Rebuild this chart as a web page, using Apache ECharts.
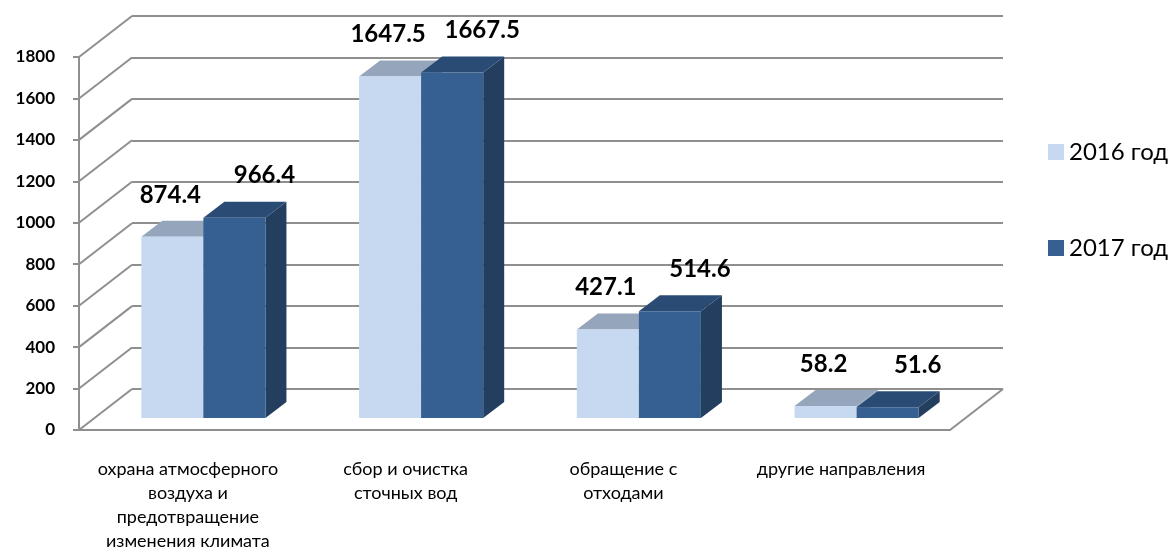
<!DOCTYPE html>
<html>
<head>
<meta charset="utf-8">
<script src="https://cdn.jsdelivr.net/npm/echarts@6/dist/echarts.min.js"></script>
<style>
  html, body { margin: 0; padding: 0; background: #fff; }
  #chart { width: 1176px; height: 553px; }
</style>
</head>
<body>
<div id="chart"></div>
<script>
const categories = [
  'охрана атмосферного\nвоздуха и\nпредотвращение\nизменения климата',
  'сбор и очистка\nсточных вод',
  'обращение с\nотходами',
  'другие направления'
];
const seriesNames = ['2016 год', '2017 год'];
const values2016 = [874.4, 1647.5, 427.1, 58.2];
const values2017 = [966.4, 1667.5, 514.6, 51.6];
const yTicks = [0, 200, 400, 600, 800, 1000, 1200, 1400, 1600, 1800];

// fake 3d: back wall offset, bar plane offset, bar depth (px)
const WALL = [53, -41];
const BAR_SHIFT = [15.5, -12];
const BAR_DEPTH = [21, -16];
const BAR_W = 0.285; // share of category width
const GRID_COLOR = '#8f8f8f';
const FONT = 'Lato, "Open Sans", sans-serif';

const chart = echarts.init(document.getElementById('chart'));

function barRenderer(side, colors, labelDx) {
  return function (params, api) {
    const i = api.value(0);
    const v = api.value(1);
    const top = api.coord([i, v]);
    const base = api.coord([i, 0]);
    const w = api.size([1, 0])[0] * BAR_W;
    const x0 = top[0] + BAR_SHIFT[0] - (side === 0 ? w : 0);
    const x1 = x0 + w;
    const yt = top[1] + BAR_SHIFT[1];
    const yb = base[1] + BAR_SHIFT[1];
    const dx = BAR_DEPTH[0], dy = BAR_DEPTH[1];
    return {
      type: 'group',
      children: [
        {
          type: 'polygon',
          shape: { points: [[x1, yt], [x1 + dx, yt + dy], [x1 + dx, yb + dy], [x1, yb]] },
          style: { fill: colors.side }
        },
        {
          type: 'polygon',
          shape: { points: [[x0, yt], [x0 + dx, yt + dy], [x1 + dx, yt + dy], [x1, yt]] },
          style: { fill: colors.top }
        },
        {
          type: 'rect',
          shape: { x: x0, y: yt, width: w, height: yb - yt },
          style: { fill: colors.front }
        },
        {
          type: 'text',
          x: (x0 + x1) / 2 + labelDx,
          y: yt - 42,
          style: {
            text: v.toFixed(1),
            fill: '#000',
            fontSize: 24,
            fontWeight: 'bold',
            fontFamily: FONT,
            align: 'center',
            verticalAlign: 'middle',
            textAlign: 'center',
            textVerticalAlign: 'middle'
          }
        }
      ]
    };
  };
}

// left wall diagonals + right floor edge
function wallRenderer(params, api) {
  const cs = params.coordSys;
  const v = api.value(1);
  const y = api.coord([0, v])[1];
  const lines = [{
    type: 'line',
    shape: { x1: cs.x, y1: y, x2: cs.x + WALL[0], y2: y + WALL[1] },
    style: { stroke: GRID_COLOR, lineWidth: 2 }
  }];
  if (v === 0) {
    lines.push({
      type: 'line',
      shape: { x1: cs.x + cs.width, y1: y, x2: cs.x + cs.width + WALL[0], y2: y + WALL[1] },
      style: { stroke: GRID_COLOR, lineWidth: 2 }
    });
  }
  return { type: 'group', children: lines };
}

const option = {
  animation: false,
  backgroundColor: '#fff',
  textStyle: { fontFamily: FONT },
  legend: {
    data: seriesNames,
    orient: 'vertical',
    left: 1043,
    top: 135,
    icon: 'rect',
    itemWidth: 16,
    itemHeight: 16,
    itemGap: 72,
    textStyle: { fontSize: 24, color: '#000', fontFamily: FONT }
  },
  grid: [
    { left: 79, top: 57, width: 871, height: 373 },
    { left: 79 + WALL[0], top: 57 + WALL[1], width: 871, height: 373 }
  ],
  xAxis: [
    {
      gridIndex: 0,
      type: 'category',
      data: categories,
      axisLine: { lineStyle: { color: GRID_COLOR, width: 2 } },
      axisTick: { length: 7, lineStyle: { color: GRID_COLOR, width: 2 } },
      axisLabel: {
        interval: 0,
        color: '#000',
        fontSize: 18,
        lineHeight: 24,
        margin: 27,
        fontFamily: FONT
      }
    },
    { gridIndex: 1, type: 'category', data: categories, show: false }
  ],
  yAxis: [
    {
      gridIndex: 0,
      type: 'value',
      min: 0,
      max: 1800,
      interval: 200,
      axisLine: { show: true, lineStyle: { color: GRID_COLOR, width: 2 } },
      axisTick: { show: true, length: 6, lineStyle: { color: GRID_COLOR, width: 2 } },
      axisLabel: {
        color: '#000',
        fontSize: 17,
        fontWeight: 'bold',
        margin: 24,
        fontFamily: FONT,
        formatter: v => String(v)
      },
      splitLine: { show: false }
    },
    {
      gridIndex: 1,
      type: 'value',
      min: 0,
      max: 1800,
      interval: 200,
      axisLine: { show: false },
      axisTick: { show: false },
      axisLabel: { show: false },
      splitLine: { show: true, lineStyle: { color: GRID_COLOR, width: 2 } }
    }
  ],
  series: [
    {
      type: 'custom',
      name: 'wall',
      xAxisIndex: 0,
      yAxisIndex: 0,
      z: 1,
      silent: true,
      clip: false,
      renderItem: wallRenderer,
      data: yTicks.map(v => [0, v]),
      encode: { x: 0, y: 1 }
    },
    {
      type: 'custom',
      name: seriesNames[0],
      xAxisIndex: 0,
      yAxisIndex: 0,
      z: 3,
      clip: false,
      itemStyle: { color: '#c6d9f1' },
      renderItem: barRenderer(0, { front: '#c6d9f1', top: '#95a6bc', side: '#8fa3bb' }, -2),
      data: values2016.map((v, i) => [i, v]),
      encode: { x: 0, y: 1 }
    },
    {
      type: 'custom',
      name: seriesNames[1],
      xAxisIndex: 0,
      yAxisIndex: 0,
      z: 4,
      clip: false,
      itemStyle: { color: '#376092' },
      renderItem: barRenderer(1, { front: '#376092', top: '#2a4b74', side: '#243e5f' }, 30),
      data: values2017.map((v, i) => [i, v]),
      encode: { x: 0, y: 1 }
    }
  ]
};

chart.setOption(option);
window.addEventListener('resize', () => chart.resize());
</script>
</body>
</html>
